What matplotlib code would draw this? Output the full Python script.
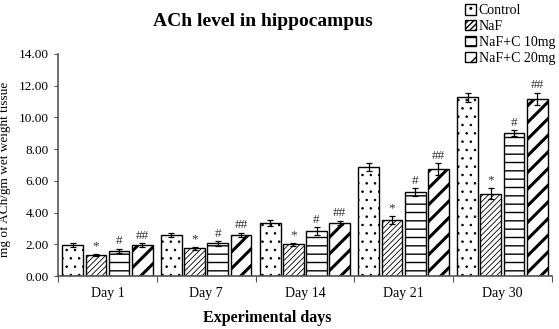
import numpy as np
import matplotlib
matplotlib.use('Agg')
import matplotlib.pyplot as plt

plt.rcParams['font.family'] = ['Liberation Serif', 'DejaVu Serif']

days = ['Day 1', 'Day 7', 'Day 14', 'Day 21', 'Day 30']
groups = ['Control', 'NaF', 'NaF+C 10mg', 'NaF+C 20mg']
control = [1.95, 2.60, 3.35, 6.85, 11.28]
naf = [1.35, 1.75, 2.00, 3.55, 5.20]
naf_c10 = [1.58, 2.07, 2.82, 5.27, 9.00]
naf_c20 = [1.95, 2.58, 3.35, 6.75, 11.18]
err_control = [0.12, 0.12, 0.18, 0.25, 0.28]
err_naf = [0.06, 0.08, 0.08, 0.25, 0.35]
err_c10 = [0.15, 0.15, 0.25, 0.25, 0.18]
err_c20 = [0.12, 0.15, 0.15, 0.35, 0.38]
marks = ['', '*', '#', '##']

values = [control, naf, naf_c10, naf_c20]
errors = [err_control, err_naf, err_c10, err_c20]
hatches = ['..', '//////', '--', '//']
hatch_lw = [0.6, 0.6, 1.0, 2.2]

fig = plt.figure(figsize=(5.59, 3.29), dpi=100)
ax = fig.add_axes([0.104, 0.161, 0.883, 0.675])

x = np.arange(len(days))
step = 0.235
width = 0.21
for i, (vals, errs) in enumerate(zip(values, errors)):
    pos = x + (i - 1.5) * step
    bars = ax.bar(pos, vals, width, color='white', edgecolor='black',
                  linewidth=1.0, hatch=hatches[i], label=groups[i])
    for b in bars:
        try:
            b.set_hatch_linewidth(hatch_lw[i])
        except AttributeError:
            pass
    ax.errorbar(pos, vals, yerr=errs, fmt='none', ecolor='black',
                elinewidth=0.9, capsize=2.5, capthick=0.9)
    if marks[i]:
        for p, v, e in zip(pos, vals, errs):
            ax.text(p, v + e + 0.08, marks[i], ha='center', va='bottom',
                    fontsize=9.5, color='#333333')

ax.set_xlim(-0.5, len(days) - 0.5)
ax.set_ylim(0, 14)
ax.set_yticks(np.arange(0, 14.01, 2))
ax.set_yticklabels(['%.2f' % t for t in np.arange(0, 14.01, 2)], fontsize=9.5)
ax.set_xticks(np.arange(-0.5, len(days), 1.0))
ax.set_xticklabels([])
ax.set_xticks(x, minor=True)
ax.set_xticklabels(days, minor=True, fontsize=10)
ax.tick_params(axis='x', which='minor', length=0, pad=8)
ax.tick_params(axis='x', which='major', length=4, color='#555555')
ax.tick_params(axis='y', length=3, color='#555555')
for s in ['top', 'right']:
    ax.spines[s].set_visible(False)
for s in ['left', 'bottom']:
    ax.spines[s].set_color('#555555')
    ax.spines[s].set_linewidth(1.2)

ax.set_ylabel('mg of ACh/gm wet weight tissue', fontsize=9.5)
ax.yaxis.set_label_coords(-0.095, 0.48)
fig.text(0.478, 0.02, 'Experimental days', ha='center', fontsize=11.5,
         fontweight='bold')
fig.text(0.47, 0.92, 'ACh level in hippocampus', ha='center', fontsize=14,
         fontweight='bold')

leg = fig.legend(loc='upper right', bbox_to_anchor=(1.015, 1.025), frameon=False,
                 fontsize=10, handlelength=0.75, handleheight=0.75,
                 handletextpad=0.2, labelspacing=0.2)

fig.savefig('out.png', dpi=100)
